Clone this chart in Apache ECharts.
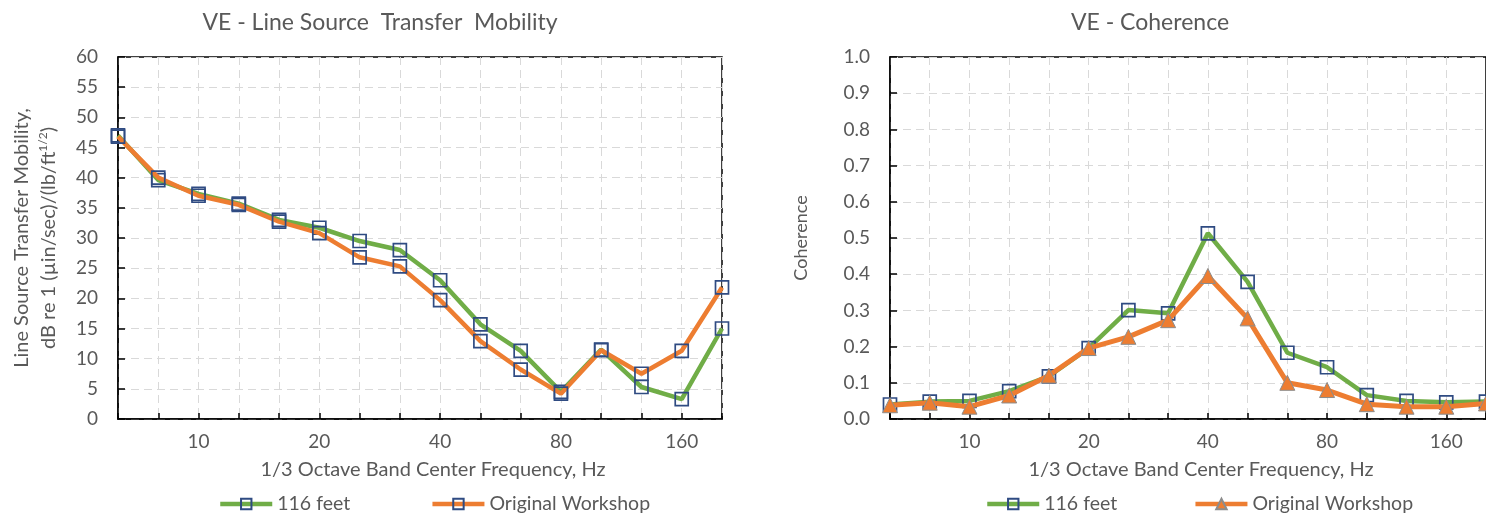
<!DOCTYPE html>
<html><head><meta charset="utf-8">
<script src="https://cdn.jsdelivr.net/npm/echarts@6/dist/echarts.min.js"></script>
<style>html,body{margin:0;padding:0;background:#fff}#c{width:1486px;height:513px}</style>
</head><body><div id="c"></div>
<script>
const categories = ['6.3','8','10','12.5','16','20','25','31.5','40','50','63','80','100','125','160','200'];
const mobility116 = [47, 39.6, 37.3, 35.7, 33, 31.7, 29.5, 28, 23, 15.7, 11.3, 4.5, 11.5, 5.3, 3.3, 15.0];
const mobilityWorkshop = [46.8, 40, 37, 35.5, 32.7, 30.8, 26.8, 25.3, 19.7, 12.9, 8.2, 4.2, 11.4, 7.5, 11.3, 21.8];
const coherence116 = [0.04, 0.048, 0.05, 0.077, 0.118, 0.196, 0.301, 0.292, 0.513, 0.379, 0.183, 0.143, 0.066, 0.05, 0.046, 0.048];
const coherenceWorkshop = [0.038, 0.045, 0.034, 0.065, 0.12, 0.196, 0.227, 0.273, 0.395, 0.278, 0.10, 0.08, 0.041, 0.034, 0.034, 0.043];
const mobilityTicks = {min: 0, max: 60, interval: 5};
const coherenceTicks = {min: 0, max: 1, interval: 0.1};
const seriesNames = ['116 feet', 'Original Workshop'];

const FONT = 'Lato';
const TXT = '#595959';
const GREEN = '#70AD47', ORANGE = '#ED7D31', BLUE = '#2F4B82';

function xAxis(gridIndex) {
  return {
    type: 'category', gridIndex, data: categories, boundaryGap: false,
    axisLine: {lineStyle: {color: '#000', width: 1.5}},
    axisTick: {show: true, inside: true, length: 6, interval: 0, lineStyle: {color: '#000', width: 1.5}},
    axisLabel: {interval: (i) => (i - 2) % 3 === 0, margin: 13, color: TXT, fontFamily: FONT, fontSize: 19},
    splitLine: {show: true, interval: 0, lineStyle: {color: '#d9d9d9', type: [8, 5], width: 1}},
    name: '1/3 Octave Band Center Frequency, Hz', nameLocation: 'middle', nameGap: 41,
    nameTextStyle: {color: TXT, fontFamily: FONT, fontSize: 20, padding: [0, 0, 0, 26]}
  };
}
function yAxis(gridIndex, t, extra) {
  return Object.assign({
    type: 'value', gridIndex, min: t.min, max: t.max, interval: t.interval,
    axisLine: {show: true, lineStyle: {color: '#000', width: 1.5}},
    axisTick: {show: true, inside: true, length: 7, lineStyle: {color: '#000', width: 1.5}},
    axisLabel: {margin: 20, color: TXT, fontFamily: FONT, fontSize: 19},
    splitLine: {show: true, lineStyle: {color: '#d9d9d9', type: [8, 5], width: 1}}
  }, extra);
}
const squareStyle = {color: 'rgba(0,0,0,0)', borderColor: BLUE, borderWidth: 1.7};
const legendText = {color: TXT, fontFamily: FONT, fontSize: 19.5};

const chart = echarts.init(document.getElementById('c'));
chart.setOption({
  animation: false,
  title: [
    {text: 'VE - Line Source  Transfer  Mobility', left: 375, top: 6, textAlign: 'center',
     textStyle: {color: TXT, fontFamily: FONT, fontSize: 23, fontWeight: 'normal'}},
    {text: 'VE - Coherence', left: 1145, top: 6, textAlign: 'center',
     textStyle: {color: TXT, fontFamily: FONT, fontSize: 23, fontWeight: 'normal'}}
  ],
  grid: [
    {left: 118, top: 57, width: 604, height: 362, show: true, borderColor: '#000', borderWidth: 1.5},
    {left: 890, top: 57, width: 604, height: 362, show: true, borderColor: '#000', borderWidth: 1.5}
  ],
  xAxis: [xAxis(0), xAxis(1)],
  yAxis: [
    yAxis(0, mobilityTicks, {
      name: '{a|Line Source Transfer Mobility,}\n{a|dB re 1 (µin/sec)/(lb/ft}{s|1/2}{a|)}',
      nameLocation: 'middle', nameGap: 56,
      nameTextStyle: {color: TXT, fontFamily: FONT, fontSize: 20, lineHeight: 27,
        rich: {a: {color: TXT, fontFamily: FONT, fontSize: 20, lineHeight: 27},
               s: {color: TXT, fontFamily: FONT, fontSize: 12, lineHeight: 27, verticalAlign: 'top', padding: [2, 0, 0, 0]}}}
    }),
    yAxis(1, coherenceTicks, {
      axisLabel: {margin: 20, color: TXT, fontFamily: FONT, fontSize: 19, formatter: (v) => v.toFixed(1)},
      name: 'Coherence', nameLocation: 'middle', nameGap: 80,
      nameTextStyle: {color: TXT, fontFamily: FONT, fontSize: 18}
    })
  ],
  legend: [
    {data: ['116 feet', 'Original Workshop'], left: 213, top: 489, itemWidth: 52, itemHeight: 13, itemGap: 80,
     lineStyle: {width: 4.5}, textStyle: legendText},
    {data: ['C:116 feet', 'C:Original Workshop'], left: 980, top: 489, itemWidth: 52, itemHeight: 13, itemGap: 76,
     lineStyle: {width: 4.5}, formatter: (n) => n.replace(/^C:/, ''), textStyle: legendText}
  ],
  series: [
    {name: seriesNames[0], type: 'line', xAxisIndex: 0, yAxisIndex: 0, data: mobility116,
     color: GREEN, lineStyle: {color: GREEN, width: 4.5}, symbol: 'rect', symbolSize: 13, itemStyle: squareStyle, z: 2},
    {name: seriesNames[1], type: 'line', xAxisIndex: 0, yAxisIndex: 0, data: mobilityWorkshop,
     color: ORANGE, lineStyle: {color: ORANGE, width: 4.5}, symbol: 'rect', symbolSize: 13, itemStyle: squareStyle, z: 3},
    {name: 'C:' + seriesNames[0], type: 'line', xAxisIndex: 1, yAxisIndex: 1, data: coherence116,
     color: GREEN, lineStyle: {color: GREEN, width: 4.5}, symbol: 'rect', symbolSize: 13, itemStyle: squareStyle, z: 2},
    {name: 'C:' + seriesNames[1], type: 'line', xAxisIndex: 1, yAxisIndex: 1, data: coherenceWorkshop,
     color: ORANGE, lineStyle: {color: ORANGE, width: 5}, symbol: 'triangle', symbolSize: 15,
     itemStyle: {color: ORANGE, borderColor: '#8c8c8c', borderWidth: 1}, z: 3}
  ]
});
</script></body></html>
